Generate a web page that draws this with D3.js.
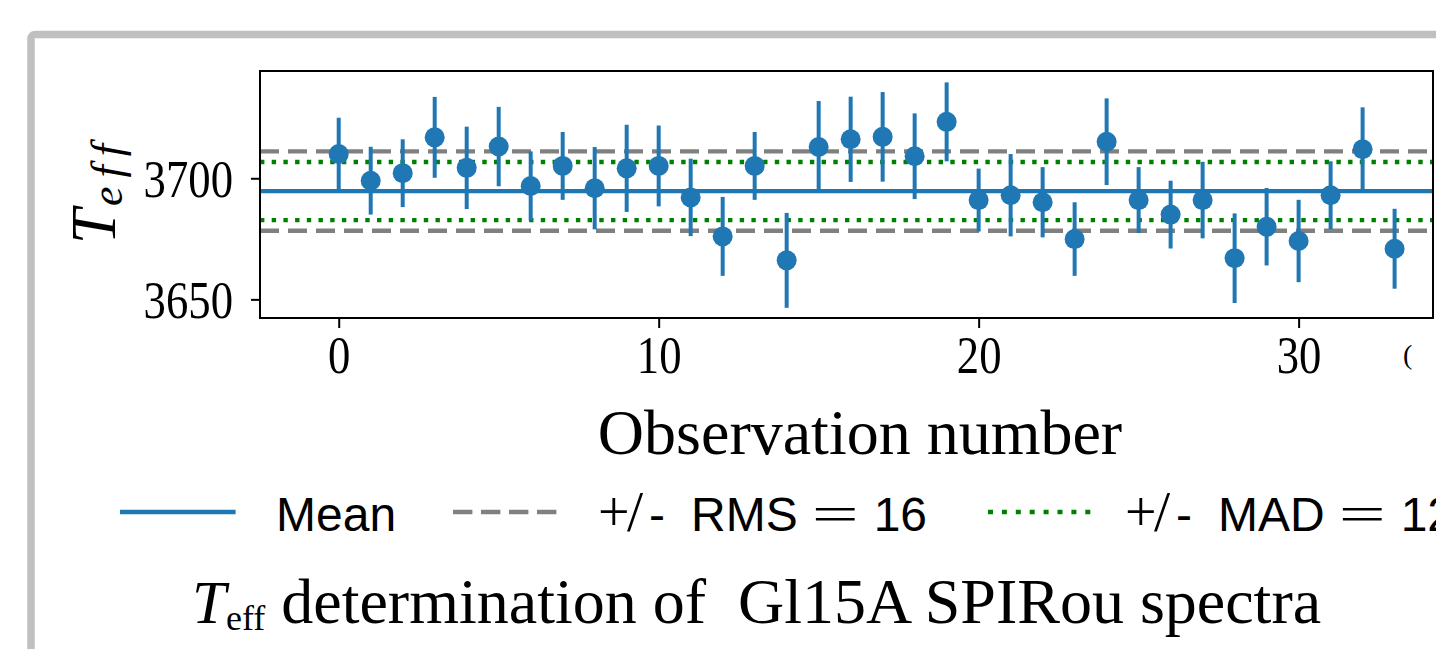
<!DOCTYPE html>
<meta charset="utf-8">
<style>
    body { margin: 0; background: #fff; overflow: hidden; }
    svg { display: block; }
    .pre { white-space: pre; }
</style>
<svg width="1436" height="649"></svg>
<script src="https://cdn.jsdelivr.net/npm/d3@7"></script>
<script>
    // observation index, Teff and its error bar
    const obsNumber = [0, 1, 2, 3, 4, 5, 6, 7, 8, 9, 10, 11, 12, 13, 14, 15, 16,
        17, 18, 19, 20, 21, 22, 23, 24, 25, 26, 27, 28, 29, 30, 31, 32, 33];
    const teff = [3710.0, 3699.0, 3702.1, 3716.9, 3704.3, 3713.1, 3696.8, 3705.1, 3695.9, 3704.1,
        3705.1, 3692.1, 3676.0, 3705.1, 3666.1, 3712.9, 3716.1, 3717.1, 3709.1, 3723.3,
        3691.0, 3693.0, 3690.1, 3674.9, 3715.1, 3691.0, 3685.0, 3691.0, 3667.0, 3680.0,
        3674.1, 3693.0, 3712.0, 3670.9];
    const teffErr = [15, 14, 14, 16.7, 17, 16.4, 14.3, 14, 17, 18,
        16.7, 16, 16.3, 14, 19.6, 19, 17.6, 18.5, 17.7, 16.3,
        13, 17, 14.5, 15.2, 17.9, 13.6, 14, 15.8, 18.5, 16,
        17, 14, 17.3, 16.5];

    const meanTeff = 3694.7;
    const rms = 16.4;
    const mad = 12.0;

    const xTicks = [0, 10, 20, 30];
    const yTicks = [3650, 3700];
    const xDomain = [-2.46, 34.2];
    const yDomain = [3642.3, 3744.3];

    const legendItems = [
        { key: "mean", label: "Mean", handleX: 120, textX: 276 },
        { key: "rms", label: "RMS", handleX: 453, textX: 600, value: "16" },
        { key: "mad", label: "MAD", handleX: 988, textX: 1127, value: "12" }
    ];

    const blue = "#1f77b4",
        serif = "'Liberation Serif', 'Times New Roman', serif",
        sans = "'Liberation Sans', Arial, sans-serif";

    var svg = d3.select("svg");

    svg.append("rect")
        .attr("width", 1436).attr("height", 649).attr("fill", "#fff");

    // gray frame of the page box around the figure
    svg.append("rect")
        .attr("x", 31).attr("y", 34.5)
        .attr("width", 1600).attr("height", 800)
        .attr("rx", 4)
        .attr("fill", "#fff")
        .attr("stroke", "#c0c0c0")
        .attr("stroke-width", 7.5);

    var margin = { left: 260, right: 1433, top: 71, bottom: 318 };

    var x = d3.scaleLinear().domain(xDomain).range([margin.left, margin.right]),
        y = d3.scaleLinear().domain(yDomain).range([margin.bottom, margin.top]);

    svg.append("clipPath").attr("id", "clip")
        .append("rect")
        .attr("x", margin.left).attr("y", margin.top)
        .attr("width", margin.right - margin.left)
        .attr("height", margin.bottom - margin.top);

    const plot = svg.append("g").attr("clip-path", "url(#clip)");

    // reference lines
    const refLines = [
        { v: meanTeff, stroke: blue, dash: null },
        { v: meanTeff + rms, stroke: "#808080", dash: "19,9" },
        { v: meanTeff - rms, stroke: "#808080", dash: "19,9" },
        { v: meanTeff + mad, stroke: "green", dash: "4.4,7.3" },
        { v: meanTeff - mad, stroke: "green", dash: "4.4,7.3" }
    ];

    plot.selectAll(".ref")
        .data(refLines)
        .enter().append("line")
        .attr("class", "ref")
        .attr("x1", x.range()[0]).attr("x2", x.range()[1])
        .attr("y1", d => y(d.v)).attr("y2", d => y(d.v))
        .attr("stroke", d => d.stroke)
        .attr("stroke-width", 4.4)
        .attr("stroke-dasharray", d => d.dash);

    const points = obsNumber.map((n, i) => ({ n: n, v: teff[i], e: teffErr[i] }));

    plot.selectAll(".err")
        .data(points)
        .enter().append("line")
        .attr("class", "err")
        .attr("x1", d => x(d.n)).attr("x2", d => x(d.n))
        .attr("y1", d => y(d.v - d.e)).attr("y2", d => y(d.v + d.e))
        .attr("stroke", blue)
        .attr("stroke-width", 4);

    plot.selectAll(".dot")
        .data(points)
        .enter().append("circle")
        .attr("class", "dot")
        .attr("cx", d => x(d.n))
        .attr("cy", d => y(d.v))
        .attr("r", 10)
        .attr("fill", blue);

    // axes
    const tickScale = 0.86;

    const xAxis = svg.append("g")
        .attr("transform", "translate(0," + margin.bottom + ")")
        .call(d3.axisBottom(x).tickValues(xTicks).tickSize(10).tickFormat(d3.format("d")));
    xAxis.select(".domain").remove();
    xAxis.selectAll(".tick line").attr("stroke", "#000").attr("stroke-width", 2);
    xAxis.selectAll(".tick text")
        .attr("y", 55).attr("dy", null).attr("x", 0)
        .attr("transform", "scale(" + tickScale + ",1)")
        .attr("fill", "#000")
        .style("font-family", serif)
        .style("font-size", "52px");

    const yAxis = svg.append("g")
        .attr("transform", "translate(" + margin.left + ",0)")
        .call(d3.axisLeft(y).tickValues(yTicks).tickSize(9).tickFormat(d3.format("d")));
    yAxis.select(".domain").remove();
    yAxis.selectAll(".tick line").attr("stroke", "#000").attr("stroke-width", 2);
    yAxis.selectAll(".tick text")
        .attr("x", -27 / tickScale).attr("y", 18.6).attr("dy", null)
        .attr("transform", "scale(" + tickScale + ",1)")
        .attr("fill", "#000")
        .style("font-family", serif)
        .style("font-size", "52px");

    // clipped tick label peeking out at the right edge
    svg.append("text")
        .attr("x", 1403).attr("y", 364)
        .style("font-family", serif).style("font-size", "28px")
        .text("(");

    svg.append("rect")
        .attr("x", margin.left).attr("y", margin.top)
        .attr("width", margin.right - margin.left)
        .attr("height", margin.bottom - margin.top)
        .attr("fill", "none")
        .attr("stroke", "#000")
        .attr("stroke-width", 2);

    // axis labels
    svg.append("text")
        .attr("x", 860).attr("y", 454)
        .attr("text-anchor", "middle")
        .style("font-family", serif).style("font-size", "64px")
        .text("Observation number");

    const ylab = svg.append("text")
        .attr("transform", "translate(115,244) rotate(-90)")
        .style("font-family", serif).style("font-style", "italic");
    ylab.append("tspan").style("font-size", "63px").text("T");
    ylab.append("tspan").attr("dy", 7).attr("dx", 3)
        .style("font-size", "44px").style("letter-spacing", "9px").text("eff");

    // legend
    const legend = svg.append("g");
    const handleLen = 111;

    legend.selectAll(".handle")
        .data(legendItems)
        .enter().append("line")
        .attr("x1", d => d.handleX + (d.key === "mean" ? 2.3 : 0))
        .attr("x2", d => d.handleX + handleLen + (d.key === "mean" ? 2.3 : 0))
        .attr("y1", 512).attr("y2", 512)
        .attr("stroke", d => d.key === "mean" ? blue : d.key === "rms" ? "#808080" : "green")
        .attr("stroke-width", 4.6)
        .attr("stroke-linecap", d => d.key === "mean" ? "square" : "butt")
        .attr("stroke-dasharray", d => d.key === "rms" ? "19.4,8.6" : d.key === "mad" ? "5,8.9" : null);

    const legendY = 531;
    legendItems.forEach(d => {
        if (d.key === "mean") {
            legend.append("text")
                .attr("x", d.textX).attr("y", legendY)
                .style("font-family", sans).style("font-size", "48px")
                .text(d.label);
            return;
        }
        const put = (txt, px, font, size) => legend.append("text")
            .attr("class", "pre")
            .attr("x", px).attr("y", legendY)
            .style("font-family", font).style("font-size", size + "px")
            .text(txt);
        put("+", d.textX - 2, serif, 56);
        put("/", d.textX + 27, serif, 58);
        put("-", d.textX + 49, sans, 48);
        const lab = put(d.label, d.textX + 91, sans, 48);
        const labEnd = d.textX + 91 + lab.node().getComputedTextLength();
        put("=", labEnd + 14, serif, 50)
            .attr("textLength", 47).attr("lengthAdjust", "spacingAndGlyphs");
        put(d.value, labEnd + 14 + 47 + 15, sans, 48);
    });

    // title
    const title = svg.append("text")
        .attr("class", "pre")
        .attr("x", 192).attr("y", 623)
        .style("font-family", serif);
    title.append("tspan").style("font-style", "italic").style("font-size", "61px").text("T");
    title.append("tspan").attr("dy", 7).style("font-size", "36px").text("eff");
    title.append("tspan").attr("dy", -7).style("font-size", "64px")
        .text(" determination of  Gl15A SPIRou spectra");
</script>
